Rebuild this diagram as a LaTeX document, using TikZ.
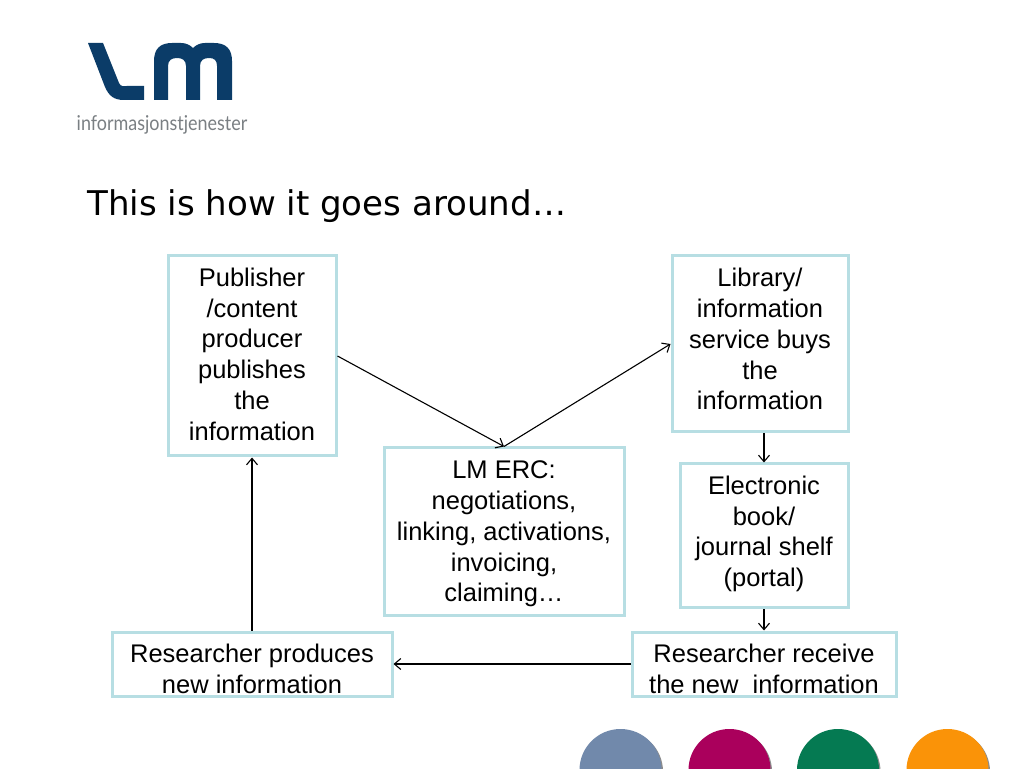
\documentclass[tikz,border=0pt]{standalone}
\usepackage{fontspec}
\setmainfont{Liberation Sans}
\newfontfamily\titlefont{DejaVu Sans}
\newfontfamily\logofont{Lato}
\usepackage{xcolor}
\usetikzlibrary{arrows.meta,shadows}
\definecolor{boxline}{HTML}{B7DEE3}
\definecolor{logoblue}{HTML}{0B3C68}
\definecolor{logogrey}{HTML}{7A7F83}
\definecolor{dotblue}{HTML}{7189AB}
\definecolor{dotpurple}{HTML}{AA005C}
\definecolor{dotgreen}{HTML}{057A52}
\definecolor{dotorange}{HTML}{FA9308}
\newcommand{\lowstrut}[1]{\rule[-#1]{0pt}{#1}}
\newcommand{\highstrut}[1]{\rule{0pt}{#1}}
\tikzset{
  infobox/.style={draw=boxline, line width=3pt, align=center, inner sep=0pt,
    font=\fontsize{25.5}{30.8}\selectfont},
  flow/.style={black, line width=1.1pt, -{Straight Barb[length=6.5pt,width=11pt]}},
  dot/.style={circle, minimum size=82pt, inner sep=0pt,
    drop shadow={shadow xshift=1.5pt, shadow yshift=-1.5pt, opacity=.45, fill=black}}
}

\begin{document}
\begin{tikzpicture}[x=1pt,y=1pt]
    \useasboundingbox (0,0) rectangle (1024,768);
    \clip (0,0) rectangle (1024,768);

    \fill[logoblue] (88,725) -- (103,725) -- (119,685) .. controls (121,681) and (123,682) .. (127,682)
        -- (144,682) -- (144,668) -- (124,668) .. controls (114,668) and (109,672) .. (105,681) -- cycle;
    \fill[logoblue] (154,668) -- (154,707) .. controls (154,719) and (160,725) .. (172,725)
        -- (181,725) .. controls (186,725) and (190,723) .. (193,720)
        .. controls (196,723) and (200,725) .. (205,725) -- (214,725)
        .. controls (226,725) and (232,719) .. (232,707) -- (232,668) -- (217,668) -- (217,702)
        .. controls (217,708) and (214,710) .. (209,710) .. controls (204,710) and (200,708) .. (200,702)
        -- (200,668) -- (186,668) -- (186,702)
        .. controls (186,708) and (182,710) .. (177,710) .. controls (172,710) and (168,708) .. (168,702)
        -- (168,668) -- cycle;
    \node (logotext) at (162,643) [logogrey, inner sep=0pt, xscale=.876, font=\logofont\fontsize{20.5}{24}\selectfont]{informasjonstjenester};

    \node (title) at (87,562) [anchor=west, inner sep=0pt, font=\titlefont\fontsize{34.05}{40}\selectfont]{This is how it goes around…};

    \node (publisher) at (252,412) [infobox, minimum width=168pt, minimum height=200pt]{Publisher\\/content\\producer\\publishes\\the\\information\lowstrut{4pt}};
    \node (library) at (760,424) [infobox, minimum width=176pt, minimum height=176pt]{Library/\\information\\service buys\\the\\information\lowstrut{10pt}};
    \node (erc) at (504,236) [infobox, minimum width=240pt, minimum height=168pt]{\highstrut{22pt}LM ERC:\\negotiations,\\linking, activations,\\invoicing,\\claiming…};
    \node (shelf) at (764,232) [infobox, minimum width=168pt, minimum height=144pt]{Electronic\\book/\\journal shelf\\(portal)\lowstrut{9.5pt}};
    \node (receive) at (764,104) [infobox, minimum width=264pt, minimum height=64pt]{\highstrut{28pt}Researcher receive\\the new\ \ information};
    \node (produces) at (252,104) [infobox, minimum width=280pt, minimum height=64pt]{\highstrut{28pt}Researcher produces\\new information};

    \draw[flow] (publisher.east) -- (erc.north);
    \draw[flow] (erc.north) -- (library.west);
    \draw[flow] (library.south -| shelf.north) -- (shelf.north);
    \draw[flow] (shelf.south) -- (receive.north);
    \draw[flow] (receive.west) -- (produces.east);
    \draw[flow] (produces.north) -- (publisher.south);

    \node (dot1) at (620.5,-2) [dot, fill=dotblue]{};
    \node (dot2) at (729.5,-2) [dot, fill=dotpurple]{};
    \node (dot3) at (838,-2) [dot, fill=dotgreen]{};
    \node (dot4) at (947.5,-2) [dot, fill=dotorange]{};
\end{tikzpicture}
\end{document}
